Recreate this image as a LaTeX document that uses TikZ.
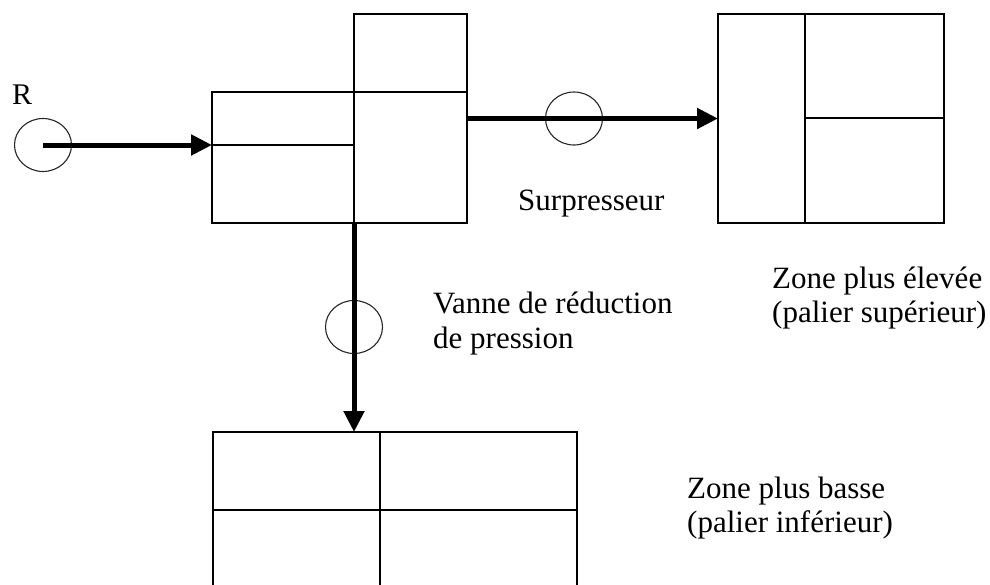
\documentclass[tikz,border=0pt]{standalone}
\usepackage{fontspec}
\setmainfont{Liberation Serif}
\usetikzlibrary{arrows.meta,shapes.geometric}
\begin{document}
\begin{tikzpicture}[x=1pt,y=-1pt,
  cell/.style={draw, line width=1.5pt, rectangle, inner sep=0pt, outer sep=0pt},
  valve/.style={draw=black!85, line width=1.1pt, ellipse, minimum width=57pt, minimum height=53pt, inner sep=0pt},
  flow/.style={line width=5pt, -{Triangle[length=21pt,width=20pt]}},
  lbl/.style={font=\fontsize{31}{35}\selectfont, anchor=base west, inner sep=0pt}]
\useasboundingbox (0,0) rectangle (990,584);
\clip (0,0) rectangle (990,584);
% left building
\node[cell, minimum width=142pt, minimum height=53pt] (ca) at (283,118.5) {};
\node[cell, minimum width=142pt, minimum height=78pt] (cb) at (283,184) {};
\node[cell, minimum width=113pt, minimum height=131pt] (cc) at (410.5,157.5) {};
\node[cell, minimum width=113pt, minimum height=78pt] (ct) at (410.5,53) {};
% right (upper zone)
\node[cell, minimum width=87pt, minimum height=209pt] (ra) at (761.5,118.5) {};
\node[cell, minimum width=139pt, minimum height=104pt] (rb) at (874.5,66) {};
\node[cell, minimum width=139pt, minimum height=105pt] (rc) at (874.5,170.5) {};
% bottom (lower zone)
\node[cell, minimum width=167pt, minimum height=78pt] (ba) at (296.5,471) {};
\node[cell, minimum width=197pt, minimum height=78pt] (bb) at (478.5,471) {};
\node[cell, minimum width=167pt, minimum height=130pt] (bc) at (296.5,575) {};
\node[cell, minimum width=197pt, minimum height=130pt] (bd) at (478.5,575) {};
% valves
\node[valve] (rv) at (43,145) {};
\node[valve] (sv) at (574,118.5) {};
\node[valve] (vv) at (354,327) {};
% connection points
\coordinate (sOut) at (467,118.5);
\coordinate (bIn) at (354,432);
% flows
\draw[flow] (rv.center) -- (ca.south west);
\draw[flow] (sOut) -- (sv.center) -- (ra.west);
\draw[flow] (cc.south west) -- (vv.center) -- (bIn);
% labels
\node[lbl, font=\fontsize{30}{32}\selectfont] (tR) at (12,104) {R};
\node[lbl] (tS) at (518,210) {Surpresseur};
\node[lbl] (tV1) at (433,313) {Vanne de réduction};
\node[lbl] (tV2) at (433,348) {de pression};
\node[lbl] (tH1) at (772,288) {Zone plus élevée};
\node[lbl] (tH2) at (772,322) {(palier supérieur)};
\node[lbl] (tL1) at (687,498) {Zone plus basse};
\node[lbl] (tL2) at (687,532) {(palier inférieur)};
\end{tikzpicture}
\end{document}
